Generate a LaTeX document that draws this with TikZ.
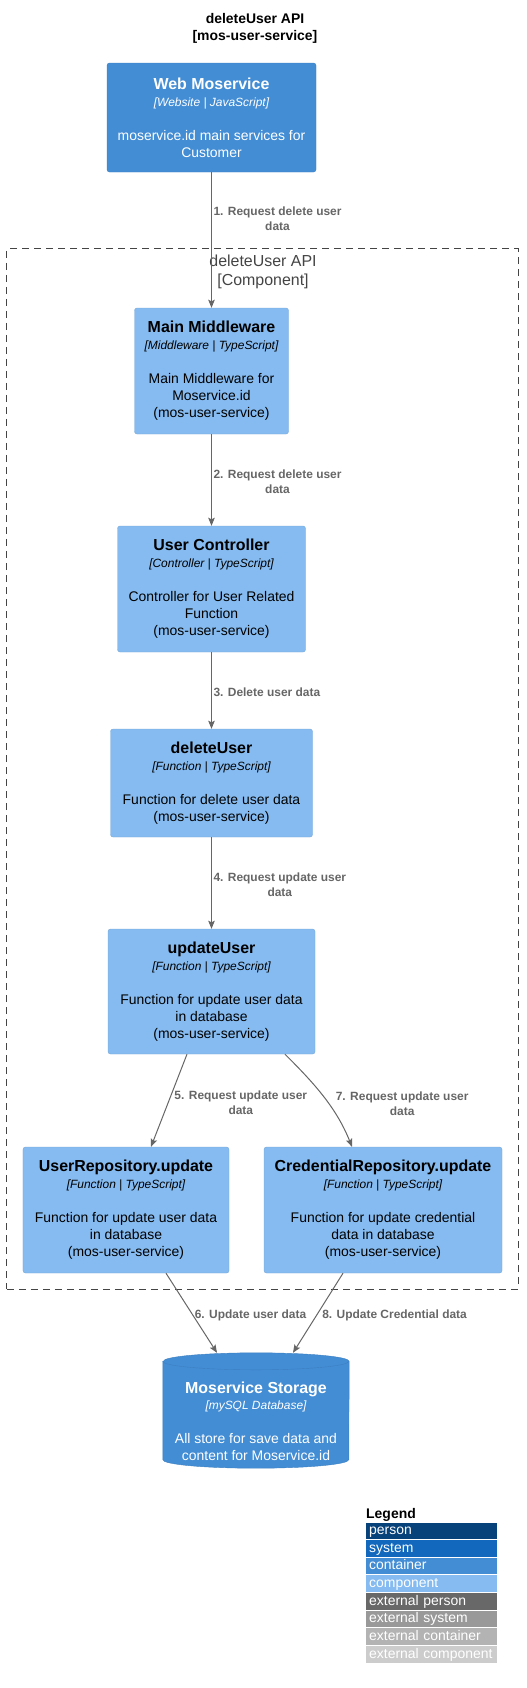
\documentclass[tikz,border=0pt]{standalone}
\usepackage{fontspec}
\setmainfont{Liberation Sans}
\usetikzlibrary{arrows.meta,backgrounds}

\definecolor{personC}{HTML}{08427B}
\definecolor{systemC}{HTML}{1168BD}
\definecolor{contFill}{HTML}{438DD5}
\definecolor{contLine}{HTML}{3C7FC0}
\definecolor{compFill}{HTML}{85BBF0}
\definecolor{compLine}{HTML}{78A8D8}
\definecolor{extPerson}{HTML}{686868}
\definecolor{extSystem}{HTML}{999999}
\definecolor{extCont}{HTML}{B3B3B3}
\definecolor{extComp}{HTML}{CCCCCC}
\definecolor{relGray}{HTML}{666666}
\definecolor{bndGray}{HTML}{444444}

\begin{document}
\begin{tikzpicture}[x=1bp, y=-1bp,
          comp/.style ={draw=compLine, fill=compFill, rounded corners=2.5bp, align=center, inner sep=0, font=\fontsize{14}{17}\selectfont},
          cont/.style ={comp, draw=contLine, fill=contFill, text=white},
          rel/.style ={draw=relGray, line width=1bp, -{Stealth[length=8bp, width=6.5bp, inset=1.5bp]}},
          rlabel/.style ={text=relGray, font=\fontsize{12}{15}\selectfont\bfseries, align=center, inner sep=0, anchor=west}
          ]
\useasboundingbox (0,0) rectangle (527,1688);

\node[font=\fontsize{14}{17}\selectfont\bfseries, align=center] (title) at (255,28.5) {deleteUser API\\{[mos-user-service]}};

\node[draw=bndGray, dash pattern=on 7bp off 5bp, line width=1bp, minimum width=511bp, minimum height=1040bp] (bnd) at (262.5,769) {};
\node[text=bndGray, font=\fontsize{16}{19}\selectfont, align=center] (bndlabel) at (263,271.5) {deleteUser API\\{[Component]}};

\node[cont, minimum width=209bp, minimum height=109bp] (web) at (211.5,117.5)
  {{\fontsize{16}{19}\selectfont\bfseries Web Moservice}\\{\fontsize{12}{14}\selectfont\itshape [Website | JavaScript]}\\[17bp]moservice.id main services for\\Customer};
\node[comp, minimum width=154bp, minimum height=126bp] (mid) at (211.5,371)
  {{\fontsize{16}{19}\selectfont\bfseries Main Middleware}\\{\fontsize{12}{14}\selectfont\itshape [Middleware | TypeScript]}\\[17bp]Main Middleware for\\Moservice.id\\(mos-user-service)};
\node[comp, minimum width=188bp, minimum height=126bp] (ctrl) at (211.5,589)
  {{\fontsize{16}{19}\selectfont\bfseries User Controller}\\{\fontsize{12}{14}\selectfont\itshape [Controller | TypeScript]}\\[17bp]Controller for User Related\\Function\\(mos-user-service)};
\node[comp, minimum width=202bp, minimum height=108bp] (del) at (211.5,783)
  {{\fontsize{16}{19}\selectfont\bfseries deleteUser}\\{\fontsize{12}{14}\selectfont\itshape [Function | TypeScript]}\\[17bp]Function for delete user data\\(mos-user-service)};
\node[comp, minimum width=207bp, minimum height=125bp] (upd) at (211.5,991.5)
  {{\fontsize{16}{19}\selectfont\bfseries updateUser}\\{\fontsize{12}{14}\selectfont\itshape [Function | TypeScript]}\\[17bp]Function for update user data\\in database\\(mos-user-service)};
\node[comp, minimum width=206bp, minimum height=126bp] (urep) at (126,1210)
  {{\fontsize{16}{19}\selectfont\bfseries UserRepository.update}\\{\fontsize{12}{14}\selectfont\itshape [Function | TypeScript]}\\[17bp]Function for update user data\\in database\\(mos-user-service)};
\node[comp, minimum width=238bp, minimum height=126bp] (crep) at (383,1210)
  {{\fontsize{16}{19}\selectfont\bfseries CredentialRepository.update}\\{\fontsize{12}{14}\selectfont\itshape [Function | TypeScript]}\\[17bp]Function for update credential\\data in database\\(mos-user-service)};

\node[text=white, align=center, inner sep=0, font=\fontsize{14}{17}\selectfont, minimum width=186bp, minimum height=115bp] (db) at (256,1410.5)
  {\rule{0pt}{33bp}{\fontsize{16}{19}\selectfont\bfseries Moservice Storage}\\{\fontsize{12}{14}\selectfont\itshape [mySQL Database]}\\[17bp]All store for save data and\\content for Moservice.id};
\begin{scope}[on background layer]
\draw[draw=contLine, fill=contFill] ([yshift=-8.5bp]db.north west) -- ([yshift=8.5bp]db.south west)
  arc[start angle=180, end angle=360, x radius=93bp, y radius=8.5bp] -- ([yshift=-8.5bp]db.north east)
  arc[start angle=0, end angle=180, x radius=93bp, y radius=8.5bp] -- cycle;
\draw[draw=contLine] ([yshift=-8.5bp]db.north west) arc[start angle=180, end angle=360, x radius=93bp, y radius=8.5bp];
\end{scope}

\draw[rel] (web) -- (mid) node[rlabel, pos=0.342, xshift=1.5bp] {1. Request delete user\\data};
\draw[rel] (mid) -- (ctrl) node[rlabel, pos=0.516, xshift=1.5bp] {2. Request delete user\\data};
\draw[rel] (ctrl) -- (del) node[rlabel, pos=0.52, xshift=1.5bp] {3. Delete user data};
\draw[rel] (del) -- (upd) node[rlabel, pos=0.516, xshift=1.5bp] {4. Request update user\\data};
\draw[rel] ([xshift=-24.5bp]upd.south) -- ([xshift=25bp]urep.north) node[rlabel, pos=0.52, xshift=5.7bp] {5. Request update user\\data};
\draw[rel] ([xshift=40bp]urep.south) -- ([xshift=-39bp]db.north) node[rlabel, pos=0.525, xshift=1.5bp] {6. Update user data};
\draw[rel] ([xshift=73.5bp]upd.south) .. controls +(28,28) and +(-16,-40) .. ([xshift=-31bp]crep.north) node[rlabel, pos=0.55, xshift=9bp, yshift=-3bp] {7. Request update user\\data};
\draw[rel] ([xshift=-40bp]crep.south) -- ([xshift=37bp]db.north) node[rlabel, pos=0.525, xshift=5bp] {8. Update Credential data};

\node[font=\fontsize{14}{17}\selectfont\bfseries, anchor=base west, inner sep=0] (legend) at (366,1518.5) {Legend};
\foreach \c/\t [count=\i from 0] in {personC/person, systemC/system, contFill/container, compFill/component, extPerson/external person, extSystem/external system, extCont/external container, extComp/external component}{
\node[fill=\c, text=white, font=\fontsize{14}{17}\selectfont, anchor=north west, inner xsep=3bp, inner ysep=0, text width=125bp, text height=10.5bp, text depth=3bp, align=left, minimum height=16.7bp] (leg\i) at (366,1522.3+\i*17.63) {\t};
}
\end{tikzpicture}
\end{document}
